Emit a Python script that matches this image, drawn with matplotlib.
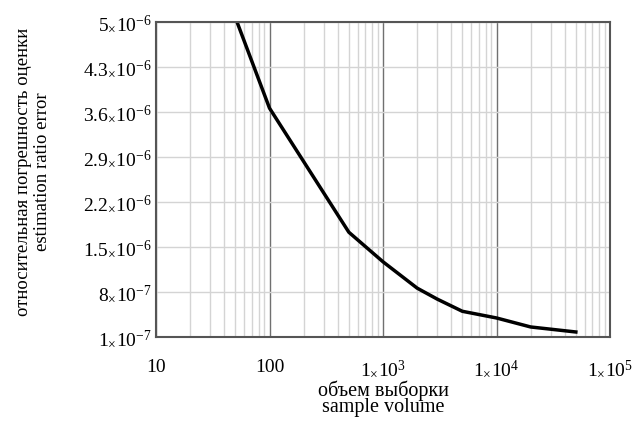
import matplotlib
matplotlib.use("Agg")
from matplotlib import pyplot as plt
from matplotlib.ticker import FixedLocator, LogLocator, NullFormatter
import numpy as np

plt.rcParams['font.family'] = ['Liberation Serif', 'DejaVu Serif']
plt.rcParams['mathtext.fontset'] = 'custom'
plt.rcParams['mathtext.rm'] = 'Liberation Serif'
plt.rcParams['mathtext.it'] = 'Liberation Serif:italic'

# sample volume vs. relative error of the estimate
sample_volume = [50, 100, 500, 1000, 2000, 3000, 5000, 10000, 20000, 50000]
ratio_error = [5.07e-6, 3.66e-6, 1.73e-6, 1.27e-6, 8.6e-7, 6.9e-7, 5.0e-7, 3.96e-7, 2.56e-7, 1.78e-7]

y_ticks = [1e-7, 8e-7, 1.5e-6, 2.2e-6, 2.9e-6, 3.6e-6, 4.3e-6, 5e-6]
y_tick_labels = [r"$1_{\times}10^{-7}$", r"$8_{\times}10^{-7}$", r"$1.5_{\times}10^{-6}$",
                 r"$2.2_{\times}10^{-6}$", r"$2.9_{\times}10^{-6}$", r"$3.6_{\times}10^{-6}$",
                 r"$4.3_{\times}10^{-6}$", r"$5_{\times}10^{-6}$"]
x_ticks = [10, 100, 1e3, 1e4, 1e5]
x_tick_labels = ["10", "100", r"$1_{\times}10^{3}$", r"$1_{\times}10^{4}$", r"$1_{\times}10^{5}$"]

fig = plt.figure(figsize=(6.38, 4.21), dpi=100)
ax = fig.add_axes([156/638, 1-337/421, (610-156)/638, (337-22)/421])

ax.set_xscale("log")
ax.set_xlim(10, 1e5)
ax.set_ylim(1e-7, 5e-6)

ax.xaxis.set_major_locator(FixedLocator(x_ticks))
ax.xaxis.set_minor_locator(LogLocator(base=10, subs=np.arange(2, 10)))
ax.xaxis.set_minor_formatter(NullFormatter())
ax.set_xticks(x_ticks)
ax.set_xticklabels(x_tick_labels)
ax.set_yticks(y_ticks)
ax.set_yticklabels(y_tick_labels)

ax.grid(True, which="major", axis="x", color="#707070", linewidth=1.0)
ax.grid(True, which="minor", axis="x", color="#d4d4d4", linewidth=1.0)
ax.grid(True, which="major", axis="y", color="#d4d4d4", linewidth=1.0)
ax.set_axisbelow(True)

ax.tick_params(axis="both", which="both", length=0, labelsize=14)
ax.tick_params(axis="x", pad=16)
ax.tick_params(axis="y", pad=3)

for s in ax.spines.values():
    s.set_color("#555555")
    s.set_linewidth(1.5)

ax.plot(sample_volume, ratio_error, color="black", linewidth=2.5, clip_on=True)

ax.set_xlabel("объем выборки\nsample volume", fontsize=14.5, linespacing=0.8, labelpad=1)
ax.set_ylabel("относительная погрешность оценки\nestimation ratio error", fontsize=13.5,
              linespacing=1.1)
ax.yaxis.set_label_coords(-0.232, 0.525)

fig.savefig("out.png", dpi=100)
